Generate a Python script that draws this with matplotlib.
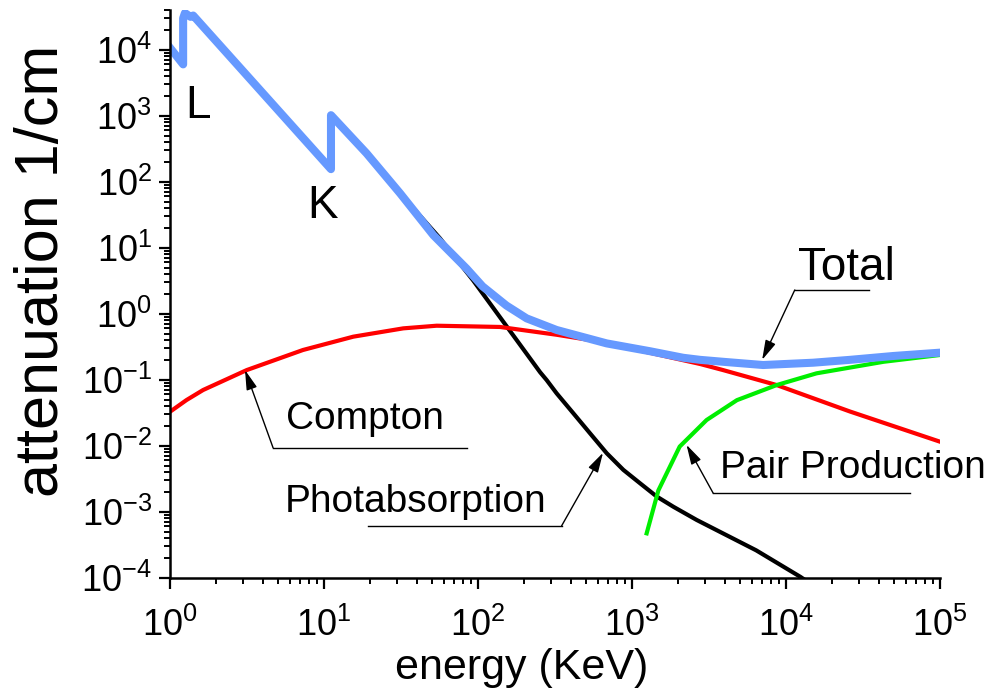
import matplotlib
matplotlib.use('Agg')
import matplotlib.pyplot as plt
from matplotlib.ticker import LogLocator, NullFormatter

plt.rcParams['font.family'] = ['Liberation Sans', 'DejaVu Sans']
plt.rcParams['axes.unicode_minus'] = False

# total attenuation (with L and K edges)
e_total = [1.0, 1.217, 1.217, 1.25, 1.36, 1.414, 11.1, 11.1, 18.9, 31.2, 51.3,
           84.5, 107, 153, 207, 324, 685, 1310, 2150, 2770, 4000, 7100, 15000,
           26000, 50000, 100000]
mu_total = [1.07e4, 6.0e3, 3.0e4, 3.6e4, 3.15e4, 3.3e4, 155, 1.02e3, 269, 66.7,
            15.5, 4.8, 2.6, 1.33, 0.85, 0.567, 0.355, 0.27, 0.215, 0.2, 0.186,
            0.167, 0.181, 0.2, 0.229, 0.257]

# photoabsorption
e_photo = [1.0, 1.217, 1.217, 1.25, 1.36, 1.414, 11.1, 11.1, 18.9, 31.2, 56.6,
           93, 153, 253, 279, 324, 416, 534, 685, 879, 1127, 1446, 1855, 2630,
           6400, 12400, 13500]
mu_photo = [1.07e4, 6.0e3, 3.0e4, 3.6e4, 3.15e4, 3.3e4, 155, 1.02e3, 269, 66.7,
            13.9, 3.2, 0.65, 0.13, 0.0989, 0.0622, 0.031, 0.0154, 7.7e-3, 4.3e-3,
            2.7e-3, 1.7e-3, 1.19e-3, 7.5e-4, 2.6e-4, 1.03e-4, 9e-5]

# compton scattering
e_compton = [1, 1.28, 1.64, 3.15, 7.3, 15.5, 32.7, 53.9, 139, 324, 620, 2770, 3900,
             8700, 26000, 100000]
mu_compton = [0.0327, 0.0492, 0.0698, 0.14, 0.282, 0.449, 0.6, 0.658, 0.63, 0.48,
              0.377, 0.173, 0.14, 0.083, 0.033, 0.0115]

# pair production
e_pair = [1245, 1483, 2040, 3050, 4800, 8700, 15800, 43000, 100000]
mu_pair = [4.7e-4, 2.1e-3, 9.7e-3, 0.0245, 0.049, 0.083, 0.125, 0.187, 0.237]

fig = plt.figure(figsize=(9.9, 6.99), dpi=100)
ax = fig.add_axes([170/990, 121.3/699, 770/990, 567.7/699])

ax.plot(e_photo, mu_photo, color='black', lw=3)
ax.plot(e_compton, mu_compton, color='#ff0000', lw=3)
ax.plot(e_pair, mu_pair, color='#00ee00', lw=3)
ax.plot(e_total, mu_total, color='#6699ff', lw=5.8, solid_joinstyle='round')

ax.set_xscale('log')
ax.set_yscale('log')
ax.set_xlim(1, 1e5)
ax.set_ylim(1e-4, 4e4)

for axis in (ax.xaxis, ax.yaxis):
    axis.set_major_locator(LogLocator(base=10, numticks=20))
    axis.set_minor_locator(LogLocator(base=10, subs=range(2, 10), numticks=20))
    axis.set_minor_formatter(NullFormatter())

ax.spines['right'].set_color('none')
ax.spines['top'].set_color('none')
ax.spines['left'].set_linewidth(1.8)
ax.spines['bottom'].set_linewidth(1.8)
ax.tick_params(which='major', direction='out', length=8, width=1.6, labelsize=26, pad=5)
ax.tick_params(which='minor', direction='out', length=4.5, width=1.4)
ax.tick_params(axis='x', which='major', pad=14)

ax.set_xlabel('energy (KeV)', fontsize=31, va='top')
ax.xaxis.set_label_coords(0.457, -0.124)
ax.set_ylabel('attenuation 1/cm', fontsize=44, va='center')
ax.yaxis.set_label_coords(-0.165, 0.54)

# edge labels
ax.text(1.25, 923, 'L', fontsize=33, va='baseline')
ax.text(7.76, 28.2, 'K', fontsize=33, va='baseline')

# leader-line annotations
notes = [
    ('Compton', (5.67, 0.0179), 28, (3.07, 0.14), (4.67, 9.3e-3), 84.5),
    ('Photabsorption', (5.58, 1.0e-3), 28, (648, 7.8e-3), (349, 6.1e-4), 19.3),
    ('Pair Production', (3730, 3.24e-3), 28, (2260, 0.0103), (3370, 1.9e-3), 6.4e4),
    ('Total', (1.2e4, 3.24), 33, (7000, 0.2), (1.14e4, 2.29), 3.47e4),
]
for label, pos, size, tip, elbow, end in notes:
    ax.text(pos[0], pos[1], label, fontsize=size, va='baseline', clip_on=False)
    ax.plot([elbow[0], end], [elbow[1], elbow[1]], color='black', lw=1)
    ax.annotate('', xy=tip, xytext=elbow,
                arrowprops=dict(arrowstyle='-|>,head_length=0.8,head_width=0.22',
                                color='black', lw=1, mutation_scale=15,
                                shrinkA=0, shrinkB=0))

fig.savefig('out.png', dpi=100)
